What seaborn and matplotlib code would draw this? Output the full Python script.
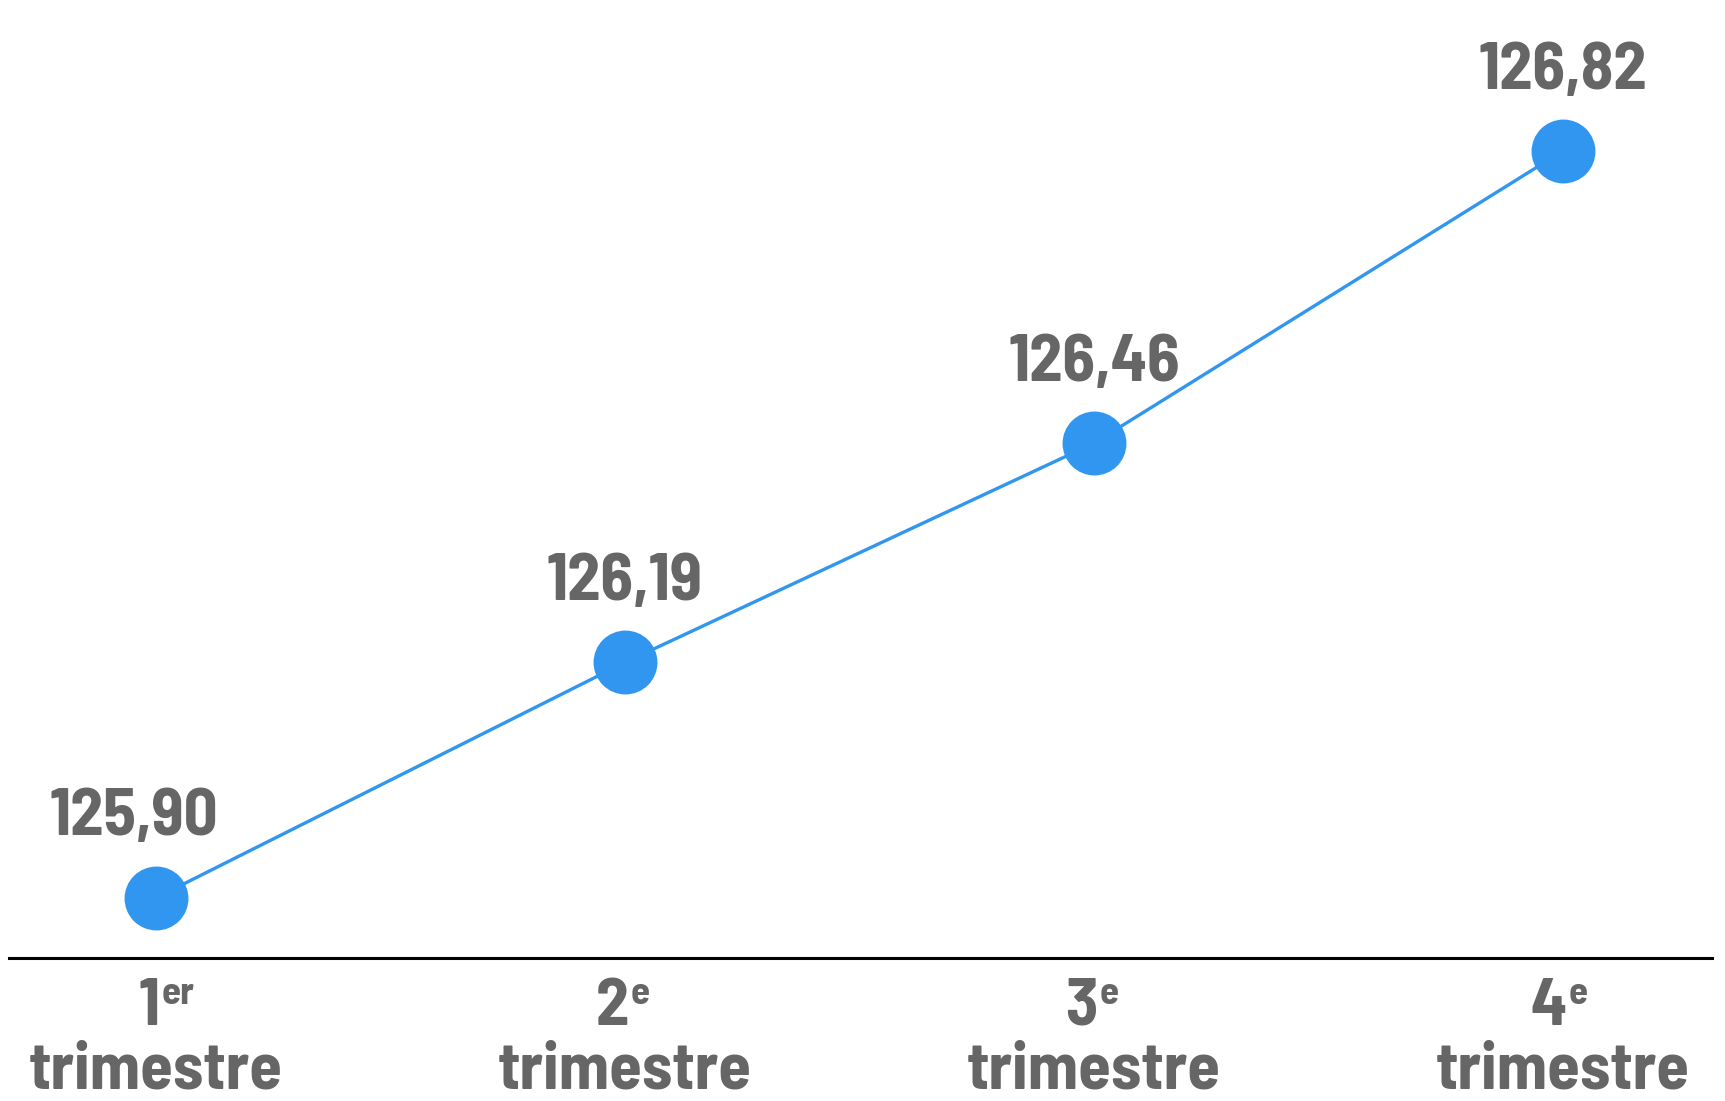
import matplotlib
matplotlib.use('Agg')
import matplotlib.pyplot as plt
import seaborn as sns
import pandas as pd

# Données
trimestres = ['1', '2', '3', '4']
suffixes = ['er', 'e', 'e', 'e']
valeurs = [125.90, 126.19, 126.46, 126.82]
etiquettes = ['125,90', '126,19', '126,46', '126,82']

bleu = '#3196EF'
gris = '#666666'
poids = 700

sns.set_theme(style='white')
plt.rcParams['font.family'] = ['Barlow Semi Condensed', 'Barlow Condensed', 'DejaVu Sans']

fig = plt.figure(figsize=(17.25, 11.01), dpi=100)
ax = fig.add_axes([9 / 1725, 143 / 1101, 1703 / 1725, 958 / 1101])

df = pd.DataFrame({'trimestre': trimestres, 'valeur': valeurs})
sns.lineplot(data=df, x='trimestre', y='valeur', ax=ax, color=bleu,
             linewidth=2.4, marker='o', markersize=46, markeredgewidth=0)

ax.set_xlim(-0.313, 3.318)
ax.set_ylim(125.826, 127.006)
ax.set_xticks([])
ax.set_yticks([])
ax.set_xlabel('')
ax.set_ylabel('')
for s in ['top', 'left', 'right']:
    ax.spines[s].set_visible(False)
ax.spines['bottom'].set_color('black')
ax.spines['bottom'].set_linewidth(2.2)

# Valeurs au-dessus des points
decalage = [-16, 0, 0, 0]
for i, (v, t) in enumerate(zip(valeurs, etiquettes)):
    ax.annotate(t, (i, v), xytext=(decalage[i], 45), textcoords='offset points',
                ha='center', va='baseline', fontsize=48, fontweight=poids, color=gris)

# Libellés des trimestres
for i, (n, s) in enumerate(zip(trimestres, suffixes)):
    ax.annotate(n, xy=(i, 0), xycoords=('data', 'axes fraction'), xytext=(3, -48),
                textcoords='offset points', ha='right', va='baseline', fontsize=48,
                fontweight=poids, color=gris, annotation_clip=False)
    ax.annotate(s, xy=(i, 0), xycoords=('data', 'axes fraction'), xytext=(4.5, -33),
                textcoords='offset points', ha='left', va='baseline', fontsize=28,
                fontweight=poids, color=gris, annotation_clip=False)
    ax.annotate('trimestre', xy=(i, 0), xycoords=('data', 'axes fraction'), xytext=(0, -94),
                textcoords='offset points', ha='center', va='baseline', fontsize=48,
                fontweight=poids, color=gris, annotation_clip=False)

fig.savefig('out.png', dpi=100)
